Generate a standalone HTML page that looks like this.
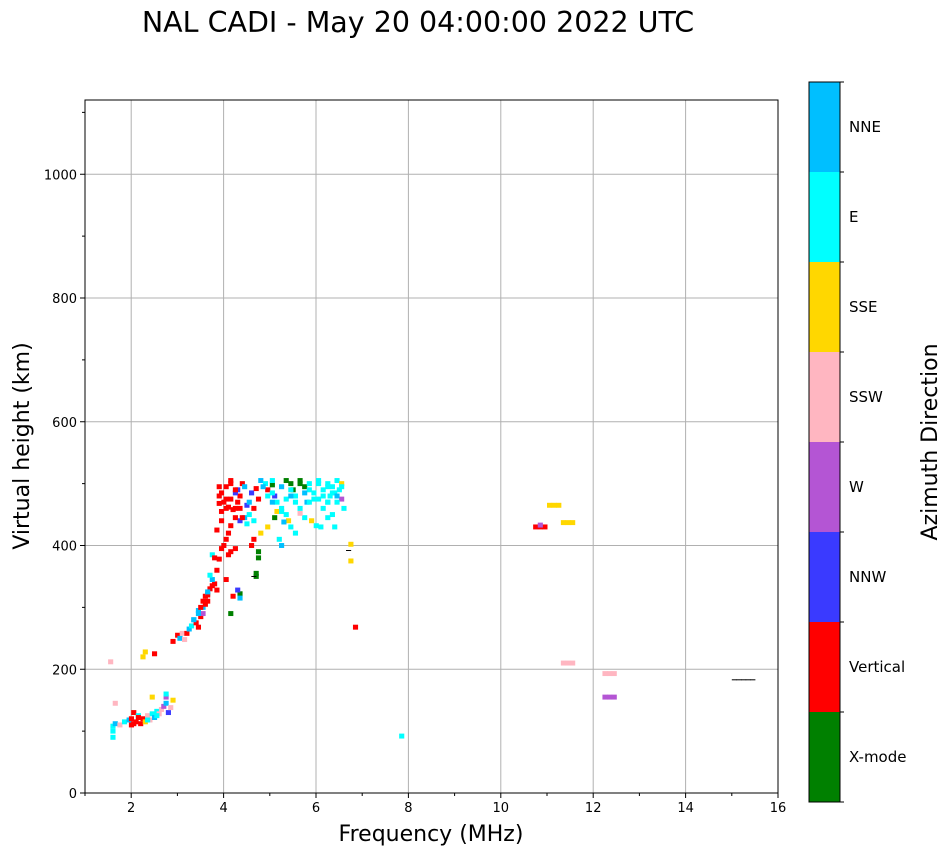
<!DOCTYPE html>
<html><head><meta charset="utf-8"><style>
body{margin:0;background:#fff;font-family:"Liberation Sans",sans-serif}
svg text{font-family:"DejaVu Sans","Liberation Sans",sans-serif}
</style></head><body>
<svg id="chart" width="951" height="856" viewBox="0 0 951 856" xmlns="http://www.w3.org/2000/svg">
<text x="418" y="32" font-size="28.5" text-anchor="middle">NAL CADI - May 20 04:00:00 2022 UTC</text>
<g id="grid"></g>
<g id="marks"></g>
<rect x="85" y="100" width="693" height="693" fill="none" stroke="#000" stroke-width="1"/>
<g id="axes"></g>
<text x="431" y="841" font-size="22" text-anchor="middle">Frequency (MHz)</text>
<text transform="translate(29,446) rotate(-90)" font-size="22" text-anchor="middle">Virtual height (km)</text>
<g id="colorbar"></g>
<text transform="translate(937,442) rotate(-90)" font-size="22" text-anchor="middle">Azimuth Direction</text>
</svg>
<script>
const categories=["X-mode","Vertical","NNW","W","SSW","SSE","E","NNE","Other"];
const catColors=["#008000","#ff0000","#3a3aff","#b455d4","#ffb6c1","#ffd700","#00ffff","#00bfff","#000000"];
const xTicks=[2,4,6,8,10,12,14,16];
const yTicks=[0,200,400,600,800,1000];
const freqs=[1.55,1.55,1.55,1.6,1.7,1.8,1.9,1.95,1.95,2.0,2.05,2.1,2.15,2.2,2.25,2.3,2.35,2.4,2.45,2.5,2.55,2.6,2.65,2.7,2.7,2.75,2.8,2.85,2.4,2.7,1.6,1.5,2.2,2.25,2.45,
2.85,2.95,3.0,3.05,3.1,3.15,3.2,3.25,3.3,3.35,3.4,3.45,3.5,3.5,3.4,3.55,3.6,3.55,3.6,3.65,3.7,3.75,3.7,3.8,3.65,3.8,3.85,3.7,3.75,3.9,3.95,4.05,4.1,4.2,4.0,4.05,4.1,3.8,3.9,3.85,3.85,3.85,4.0,4.05,4.15,4.25,4.3,4.25,4.35,4.1,4.2,4.3,4.4,4.5,4.45,4.6,4.7,4.55,4.65,4.75,4.85,4.9,5.0,5.05,5.1,5.2,5.3,5.35,5.4,5.5,5.15,5.2,5.3,5.4,5.45,5.5,5.6,5.7,5.8,5.9,6.0,6.1,6.2,6.3,6.4,6.45,6.5,6.0,6.1,6.2,6.5,6.55,5.85,5.95,6.05,5.7,5.6,5.0,5.1,4.9,4.75,4.6,4.55,4.7,4.7,4.65,4.65,4.3,4.1,4.25,4.3,4.15,4.0,6.7,6.7,6.8,6.35,6.4,6.2,6.3,
4.0,4.1,4.2,4.35,3.95,4.45,5.0,5.2,5.4,5.6,5.8,6.2,6.35,5.05,5.25,5.45,5.75,6.25,
4.0,4.1,4.2,3.9,4.3,4.5,4.8,5.0,5.3,5.5,5.7,5.9,6.1,6.3,6.5,6.4,6.2,6.0,5.8,5.6,5.4,5.2,4.9,4.6,4.4,4.2,3.9,3.6,3.4,3.3,3.5,3.45,3.6,2.1,2.0,2.3,2.5,
7.8,10.7,10.8,10.9,10.8,11.0,11.1,11.2,11.3,11.4,11.5,11.3,11.4,11.5,12.2,12.3,12.4,12.2,12.3,12.4,15.0,15.1,15.2,15.3,15.4,4.6,6.65];
const heights=[108,100,90,112,110,115,118,110,120,130,115,125,112,120,115,125,118,128,122,132,128,135,140,145,155,130,138,150,155,160,145,212,220,228,225,
245,255,250,258,248,258,265,270,280,275,268,285,290,300,295,305,310,318,322,330,335,338,345,328,352,360,378,385,380,395,400,385,390,395,410,420,432,425,455,468,480,495,475,462,458,470,480,490,500,505,485,440,445,450,435,460,475,485,492,505,500,490,498,480,470,460,450,440,430,420,410,400,505,500,490,480,500,495,490,485,500,490,500,495,505,490,500,475,460,470,475,460,440,432,430,445,452,470,455,430,420,410,400,380,390,355,350,322,290,328,315,318,345,375,402,268,430,470,445,450,
495,500,490,445,470,465,505,495,490,505,500,495,485,445,438,480,470,480,
460,475,445,485,460,470,495,485,475,470,485,475,480,485,495,480,470,505,470,460,480,455,480,440,495,460,440,320,290,280,310,300,325,122,112,118,125,
92,430,430,430,433,465,465,465,437,437,437,210,210,210,193,193,193,155,155,155,183,183,183,183,183,350,392];
const cats=[6,6,6,7,4,6,7,1,1,1,1,6,1,1,5,4,4,6,7,6,4,4,3,7,3,2,4,5,5,6,4,4,5,5,1,
1,1,7,4,4,1,7,6,7,1,1,1,3,7,7,1,1,1,6,1,1,1,7,1,6,1,1,6,1,1,1,1,1,1,1,1,1,1,1,1,1,1,1,1,1,1,1,2,1,1,2,2,7,6,6,1,1,2,1,7,6,1,0,2,6,6,6,5,6,6,6,7,0,0,0,6,0,0,6,6,6,6,6,6,6,6,5,6,6,6,3,6,5,6,6,6,4,7,5,5,5,1,1,0,0,0,0,0,0,2,7,1,1,5,5,1,6,6,6,6,
1,1,1,1,1,2,6,7,6,0,6,6,6,0,7,6,7,6,
1,1,1,1,1,7,7,6,6,6,7,6,6,6,6,7,6,6,6,6,7,6,6,6,7,1,1,1,7,7,1,1,7,1,1,6,6,
6,1,1,1,3,5,5,5,5,5,5,4,4,4,4,4,4,3,3,3,8,8,8,8,8,8,8];
const X0=85,X1=778,Y0=793,Y1=100,xmin=1,xmax=16,ymin=0,ymax=1120;
const xs=v=>X0+(v-xmin)/(xmax-xmin)*(X1-X0);
const ys=v=>Y0-(v-ymin)/(ymax-ymin)*(Y0-Y1);
const NS="http://www.w3.org/2000/svg";
function mk(t,a,p){const e=document.createElementNS(NS,t);for(const k in a)e.setAttribute(k,a[k]);p.appendChild(e);return e;}
const grid=document.getElementById('grid'),axes=document.getElementById('axes'),marks=document.getElementById('marks'),cb=document.getElementById('colorbar');
xTicks.forEach(v=>{const x=xs(v);
 const g=mk('line',{x1:x,x2:x,y1:Y1,y2:Y0,stroke:'#b0b0b0','stroke-width':1},grid);
 
 
 mk('line',{x1:x,x2:x,y1:Y0,y2:Y0+5,stroke:'#000'},axes);
 const t=mk('text',{x:x,y:Y0+19,'font-size':13,'text-anchor':'middle'},axes);t.textContent=v;
 
 });
for(let v=1;v<16;v+=2){const x=xs(v);mk('line',{x1:x,x2:x,y1:Y0,y2:Y0+3,stroke:'#000'},axes);}
yTicks.forEach(v=>{const y=ys(v);
 const g=mk('line',{x1:X0,x2:X1,y1:y,y2:y,stroke:'#b0b0b0','stroke-width':1},grid);
 
 
 mk('line',{x1:X0-5,x2:X0,y1:y,y2:y,stroke:'#000'},axes);
 const t=mk('text',{x:X0-8,y:y+5,'font-size':13,'text-anchor':'end'},axes);t.textContent=v;
 
 });
for(let v=100;v<1120;v+=200){const y=ys(v);mk('line',{x1:X0-3,x2:X0,y1:y,y2:y,stroke:'#000'},axes);}
const cw=0.1,ch=8;
freqs.forEach((f,i)=>{const c=cats[i];const h=c===8?1.5:ch;
 const r=mk('rect',{x:xs(f),y:ys(heights[i]+h/2),width:xs(f+cw)-xs(f)+0.5,height:Math.max(1,ys(0)-ys(h)),fill:catColors[c]},marks);
 
 });
const CX=809,CW=31,CT=82,CB=802,seg=(CB-CT)/8;
for(let i=0;i<8;i++){const yb=CB-i*seg;
 const r=mk('rect',{x:CX,y:yb-seg,width:CW,height:seg,fill:catColors[i]},cb);
 
 
 mk('line',{x1:CX+CW,x2:CX+CW+4,y1:yb,y2:yb,stroke:'#000'},cb);
 const t=mk('text',{x:CX+CW+9,y:yb-seg/2+5,'font-size':15},cb);t.textContent=categories[i];
 
 }
mk('line',{x1:CX+CW,x2:CX+CW+4,y1:CT,y2:CT,stroke:'#000'},cb);
mk('rect',{x:CX,y:CT,width:CW,height:CB-CT,fill:'none',stroke:'#000'},cb);
</script>
</body></html>
